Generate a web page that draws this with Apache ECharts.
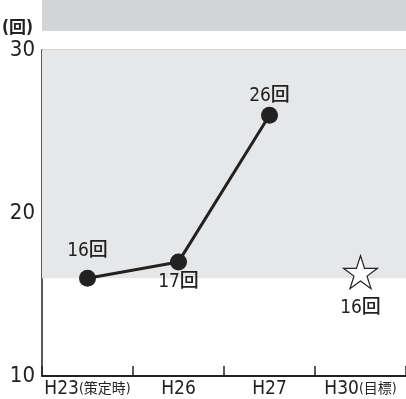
<!doctype html>
<html>
<head>
<meta charset="utf-8">
<script src="https://cdn.jsdelivr.net/npm/echarts@6/dist/echarts.min.js"></script>
<style>
	html, body { margin: 0; padding: 0; background: #fff; }
	#chart { width: 406px; height: 399px; }
</style>
</head>
<body>
<div id="chart"></div>
<script>
	var categories = ['H23', 'H26', 'H27', 'H30'];
	var categoryNotes = ['策定時', '', '', '目標'];
	var actualValues = [16, 17, 26, null];
	var targetValues = [null, null, null, 16];
	var labelPos = ['top', 'bottom', 'top', 'bottom'];
	var labelGap = [9, 2, 1, 9];
	var yTicks = [10, 20, 30];

	var narrow = '"Liberation Sans Narrow", "DejaVu Sans Condensed", "Noto Sans CJK JP", sans-serif';
	var starPath = 'path://M50,2 L61.8,38.2 L99.5,38.2 L69,60.5 L80.6,96.6 L50,74.3 L19.4,96.6 L31,60.5 L0.5,38.2 L38.2,38.2 Z';

	function pointData(values) {
		return values.map(function (v, i) {
			return { value: v, label: { position: labelPos[i], distance: labelGap[i] } };
		});
	}

	var myChart = echarts.init(document.getElementById('chart'));
	var option = {
		animation: false,
		grid: { left: 42, top: 50, width: 368, bottom: 23 },
		graphic: [
			{ type: 'rect', shape: { x: 42, y: 0, width: 364, height: 31 }, style: { fill: '#d3d4d6' } },
			{ type: 'text', left: 2, top: 20, style: { text: '(回)', font: 'bold 17px ' + narrow, fill: '#222' } }
		],
		xAxis: {
			type: 'category',
			data: categories,
			boundaryGap: true,
			z: 5,
			axisLine: { lineStyle: { color: '#222', width: 2 } },
			axisTick: { show: true, interval: 0, inside: true, length: 10, lineStyle: { color: '#222', width: 1.5 } },
			axisLabel: {
				interval: 0,
				margin: 4,
				formatter: function (v, i) {
					var note = categoryNotes[i];
					return note ? '{a|' + v + '}{b|(' + note + ')}' : '{a|' + v + '}';
				},
				rich: {
					a: { fontSize: 19, color: '#222', fontFamily: narrow },
					b: { fontSize: 14, color: '#222', fontFamily: narrow }
				}
			}
		},
		yAxis: {
			type: 'value',
			min: 10,
			max: 30,
			interval: 10,
			axisLine: { show: true, lineStyle: { color: '#222', width: 1.5 } },
			axisTick: { show: false },
			splitLine: { show: true, lineStyle: { color: '#c4c4c4', width: 1.5 } },
			axisLabel: {
				margin: 7,
				fontSize: 22,
				color: '#222',
				fontFamily: narrow,
				formatter: function (v) { return yTicks.indexOf(v) >= 0 ? String(v) : ''; }
			}
		},
		series: [
			{
				type: 'line',
				data: pointData(actualValues),
				symbol: 'circle',
				symbolSize: 17,
				z: 3,
				lineStyle: { color: '#222', width: 3 },
				itemStyle: { color: '#222' },
				label: {
					show: true,
					fontSize: 19,
					fontWeight: 500,
					color: '#222',
					fontFamily: narrow,
					formatter: '{c}回'
				},
				markArea: {
					silent: true,
					itemStyle: { color: '#e6e7e8' },
					data: [[{ yAxis: 16 }, { yAxis: 30 }]]
				}
			},
			{
				type: 'line',
				data: pointData(targetValues),
				symbol: starPath,
				symbolSize: [34, 33],
				symbolOffset: [0, -6],
				z: 3,
				lineStyle: { width: 0 },
				itemStyle: { color: '#fff', borderColor: '#222', borderWidth: 1.2 },
				label: {
					show: true,
					fontSize: 19,
					fontWeight: 500,
					color: '#222',
					fontFamily: narrow,
					formatter: '{c}回'
				}
			}
		]
	};
	myChart.setOption(option);
</script>
</body>
</html>
